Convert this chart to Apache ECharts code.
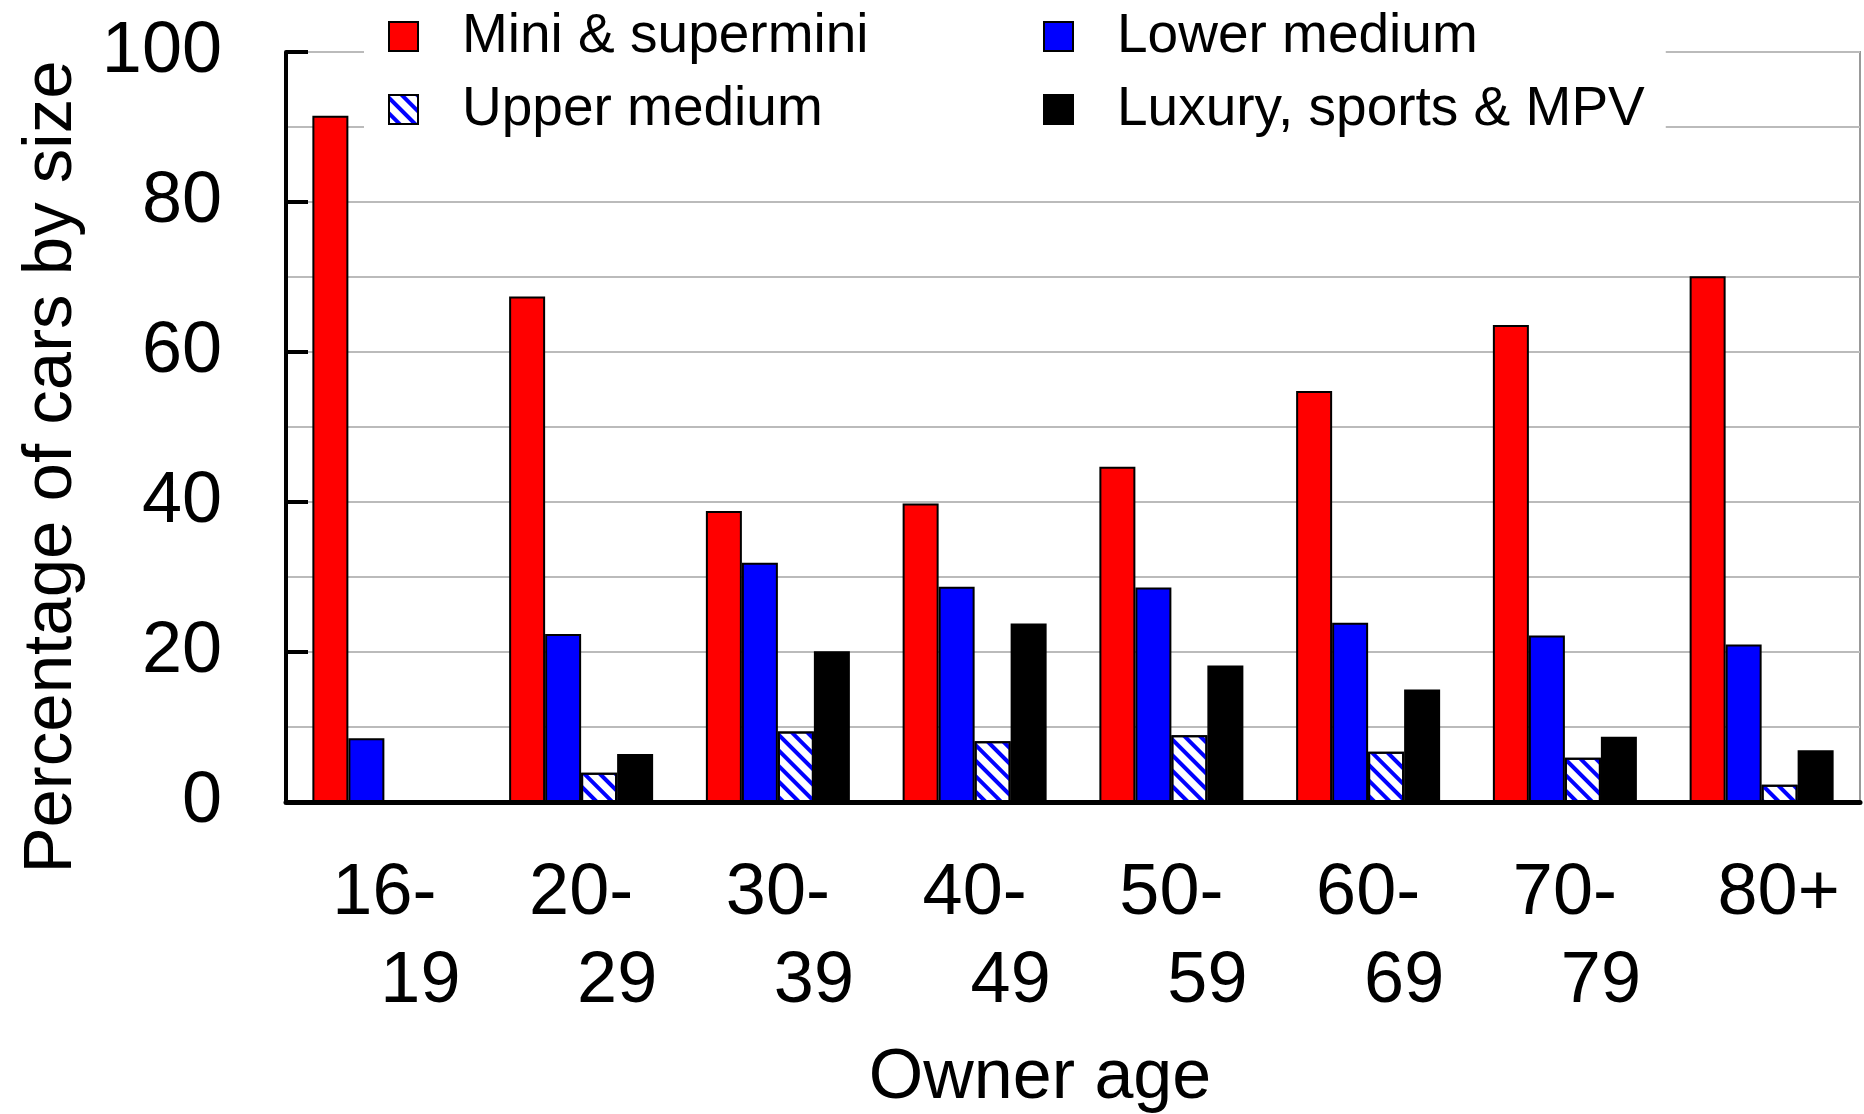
<!DOCTYPE html>
<html>
<head>
<meta charset="utf-8">
<script src="https://cdn.jsdelivr.net/npm/echarts@6/dist/echarts.min.js"></script>
<style>
  html, body { margin: 0; padding: 0; background: #fff; }
  #chart { width: 1864px; height: 1114px; }
</style>
</head>
<body>
<div id="chart"></div>
<script>
// ====== data ======
const ageGroups = ["16-\n19", "20-\n29", "30-\n39", "40-\n49", "50-\n59", "60-\n69", "70-\n79", "80+"];
const miniSupermini = [91.5, 67.4, 38.8, 39.8, 44.7, 54.8, 63.6, 70.1];
const lowerMedium = [8.5, 22.4, 31.9, 28.7, 28.6, 23.9, 22.2, 21.0];
const upperMedium = ["-", 3.9, 9.4, 8.1, 8.9, 6.7, 5.9, 2.3];
const luxurySportsMpv = ["-", 6.4, 20.1, 23.8, 18.2, 15.0, 8.7, 6.9];

const FONT = "'Liberation Sans', Arial, Helvetica, sans-serif";

const chart = echarts.init(document.getElementById("chart"));

const barBase = {
  type: "bar",
  barWidth: 36,
  barGap: "0%",
  itemStyle: { borderColor: "#000", borderWidth: 2 },
};

const legendBase = {
  orient: "vertical",
  top: 0,
  icon: "rect",
  itemWidth: 29,
  itemHeight: 29,
  itemGap: 18,
  backgroundColor: "#fff",
  textStyle: {
    fontFamily: FONT,
    fontSize: 55,
    color: "#000",
    padding: [0, 0, 0, 39],
  },
};

chart.setOption({
  animation: false,
  backgroundColor: "#fff",
  textStyle: { fontFamily: FONT },
  legend: [
    Object.assign({}, legendBase, {
      left: 364,
      padding: [9, 200, 18, 24],
      data: ["Mini & supermini", "Upper medium"],
    }),
    Object.assign({}, legendBase, {
      left: 1019,
      padding: [9, 21, 18, 24],
      data: ["Lower medium", "Luxury, sports & MPV"],
    }),
  ],
  grid: {
    left: 286,
    right: 4,
    top: 52,
    bottom: 312,
    outerBoundsMode: "none",
    show: true,
    borderColor: "#999",
    borderWidth: 2,
  },
  xAxis: {
    type: "category",
    data: ageGroups,
    name: "Owner age",
    nameLocation: "middle",
    nameGap: 242,
    nameTextStyle: { fontSize: 70, color: "#000", padding: [0, 66, 0, 0] },
    axisLine: { lineStyle: { color: "#000", width: 5 } },
    axisTick: { length: 22, lineStyle: { color: "#000", width: 3 } },
    axisLabel: {
      margin: 48,
      color: "#000",
      formatter: (v) => {
        const parts = v.split("\n");
        return parts.length > 1 ? `{a|${parts[0]}}\n{b|${parts[1]}}` : `{c|${parts[0]}}`;
      },
      rich: {
        a: { fontSize: 72, lineHeight: 88, color: "#000" },
        b: { fontSize: 72, lineHeight: 88, color: "#000", padding: [0, 0, 0, 72] },
        c: { fontSize: 72, lineHeight: 88, color: "#000", padding: [0, 0, 0, 34] },
      },
    },
    splitLine: { show: false },
  },
  yAxis: {
    type: "value",
    min: 0,
    max: 100,
    interval: 20,
    name: "Percentage of cars by size",
    nameLocation: "middle",
    nameGap: 200,
    nameTextStyle: { fontSize: 69, color: "#000", padding: [0, 80, 0, 0] },
    axisLine: { show: true, lineStyle: { color: "#000", width: 4 } },
    axisTick: { show: true, inside: true, length: 22, lineStyle: { color: "#000", width: 4 } },
    axisLabel: { fontSize: 72, color: "#000", margin: 64 },
    splitLine: { lineStyle: { color: "#bbb", width: 2 } },
    minorTick: { show: false, splitNumber: 2 },
    minorSplitLine: { show: true, lineStyle: { color: "#bbb", width: 2 } },
  },
  series: [
    Object.assign({}, barBase, {
      name: "Mini & supermini",
      data: miniSupermini,
      itemStyle: { color: "#ff0000", borderColor: "#000", borderWidth: 2 },
    }),
    Object.assign({}, barBase, {
      name: "Lower medium",
      data: lowerMedium,
      itemStyle: { color: "#0000ff", borderColor: "#000", borderWidth: 2 },
    }),
    Object.assign({}, barBase, {
      name: "Upper medium",
      data: upperMedium,
      itemStyle: {
        color: "#ffffff",
        borderColor: "#000",
        borderWidth: 2,
        decal: {
          symbol: "rect",
          symbolSize: 1,
          color: "#0000ff",
          dashArrayX: [1, 0],
          dashArrayY: [4, 7],
          rotation: Math.PI / 4,
        },
      },
    }),
    Object.assign({}, barBase, {
      name: "Luxury, sports & MPV",
      data: luxurySportsMpv,
      itemStyle: { color: "#000000", borderColor: "#000", borderWidth: 2 },
    }),
  ],
});
</script>
</body>
</html>
